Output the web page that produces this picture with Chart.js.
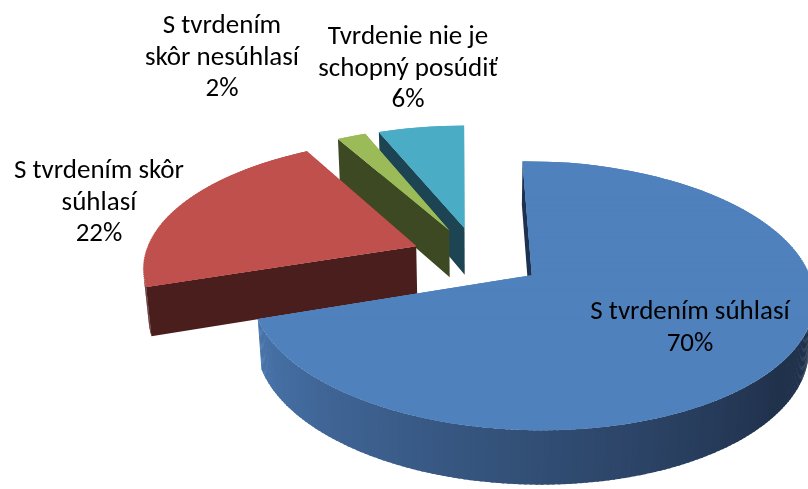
<!DOCTYPE html>
<html>
<head>
<meta charset="utf-8">
<script src="https://cdn.jsdelivr.net/npm/chart.js@4.4.0/dist/chart.umd.min.js"></script>
<style>
  html, body { margin: 0; padding: 0; background: #fff; }
  #chart { display: block; }
</style>
</head>
<body>
<canvas id="chart" width="808" height="489"></canvas>
<script>
// --- data ---
const categories = [
  ['S tvrdením súhlasí'],
  ['S tvrdením skôr', 'súhlasí'],
  ['S tvrdením', 'skôr nesúhlasí'],
  ['Tvrdenie nie je', 'schopný posúdiť']
];
const values = [70, 22, 2, 6];

// --- colors ---
const topColors = ['#4f81bd', '#c0504d', '#9bbb59', '#4bacc6'];
const sideColors = ['#1f3151', '#4b1e1e', '#3d4922', '#1d4452'];
const wallLight = ['#4a77af', '#4f1f1f', '#3d4922', '#1d4452'];
const wallDark = ['#21324d', '#4b1e1e', '#3d4922', '#1d4452'];

// label layout (center x, first baseline)
const labelX = [690, 99, 222, 408];
const labelY = [319, 178, 33, 44];
const lineGap = 31.5;

// fake 3d view: pie plane seen from above/front with a bit of perspective
const view = { x0: 477, y0: 257, r: 272, explode: 66, depth: 55, sin: 0.463, cos: 0.886, dist: 1611 };

function project(u, v, h) {
  const den = 1 - (v * view.cos + h * view.sin) / view.dist;
  return [view.x0 + u / den, view.y0 + (v * view.sin - h * view.cos) / den];
}

function hexRgb(h) {
  const n = parseInt(h.slice(1), 16);
  return [(n >> 16) & 255, (n >> 8) & 255, n & 255];
}
function mix(c1, c2, t) {
  const a = hexRgb(c1), b = hexRgb(c2);
  return 'rgb(' + a.map((x, i) => Math.round(x + (b[i] - x) * t)).join(',') + ')';
}

function quad(ctx, pts, color) {
  ctx.beginPath();
  ctx.moveTo(pts[0][0], pts[0][1]);
  for (let i = 1; i < pts.length; i++) ctx.lineTo(pts[i][0], pts[i][1]);
  ctx.closePath();
  ctx.fillStyle = color;
  ctx.fill();
}

function drawSides(ctx, s, dpr) {
  const a = s.arc.startAngle, b = s.arc.endAngle;
  const R = view.r, H = view.depth;
  const camV = view.dist * view.cos;
  ctx.save();
  ctx.setTransform(dpr, 0, 0, dpr, 0, 0);

  // radial faces
  const faces = [[a, Math.sin(a), -Math.cos(a)], [b, -Math.sin(b), Math.cos(b)]];
  faces.forEach(([ang, nx, ny]) => {
    if (-s.cu * nx + (camV - s.cv) * ny <= 0) return;
    const eu = s.cu + R * Math.cos(ang), ev = s.cv + R * Math.sin(ang);
    quad(ctx, [project(s.cu, s.cv, 0), project(eu, ev, 0), project(eu, ev, -H), project(s.cu, s.cv, -H)], sideColors[s.i]);
  });

  // outer wall, in thin pieces so it can be shaded
  const step = Math.PI / 180;
  for (let t = a; t < b; t += step) {
    const t2 = Math.min(t + step, b);
    const tm = (t + t2) / 2;
    const pu = s.cu + R * Math.cos(tm), pv = s.cv + R * Math.sin(tm);
    if (-pu * Math.cos(tm) + (camV - pv) * Math.sin(tm) <= 0) continue;
    let deg = tm * 180 / Math.PI;
    deg = ((deg % 360) + 540) % 360 - 180;
    const k = Math.max(0, Math.min(1, (deg - 40) / 125));
    const te = Math.min(t2 + step * 0.4, b);
    const p1 = [s.cu + R * Math.cos(t), s.cv + R * Math.sin(t)];
    const p2 = [s.cu + R * Math.cos(te), s.cv + R * Math.sin(te)];
    quad(ctx, [project(p1[0], p1[1], 0), project(p2[0], p2[1], 0), project(p2[0], p2[1], -H), project(p1[0], p1[1], -H)],
      mix(wallDark[s.i], wallLight[s.i], k));
  }
  ctx.restore();
}

// top face: the library's own arc, drawn in thin bands, each band with its own affine map
function drawTop(ctx, s, dpr) {
  const arc = s.arc;
  const k = view.r / arc.outerRadius;
  const q = view.cos / view.dist;
  const step = 4, overlap = 5;
  for (let v0 = s.cv - view.r - 4; v0 < s.cv + view.r + 4; v0 += step) {
    const vm = v0 + step / 2;
    const den = 1 - vm * q;
    const g = 1 / den;
    const fy = vm * view.sin / den;
    const dfy = view.sin / (den * den);
    ctx.save();
    ctx.setTransform(g * k * dpr, 0, 0, dfy * k * dpr,
      dpr * (view.x0 + g * (s.cu - k * arc.x)),
      dpr * (view.y0 + fy + dfy * (s.cv - k * arc.y - vm)));
    const py0 = arc.y + (v0 - s.cv) / k;
    const py1 = arc.y + (v0 + step + overlap - s.cv) / k;
    ctx.beginPath();
    ctx.rect(arc.x - 2 * arc.outerRadius, py0, 4 * arc.outerRadius, py1 - py0);
    ctx.clip();
    arc.draw(ctx);
    ctx.restore();
  }
}

const pie3d = {
  id: 'pie3d',
  beforeDatasetsDraw(chart) {
    const ctx = chart.ctx;
    const dpr = chart.currentDevicePixelRatio || 1;
    const list = chart.getDatasetMeta(0).data.map((arc, i) => {
      const mid = (arc.startAngle + arc.endAngle) / 2;
      return { arc, i, cu: view.explode * Math.cos(mid), cv: view.explode * Math.sin(mid) };
    }).sort((p, q) => p.cv - q.cv);
    list.forEach(s => {
      drawSides(ctx, s, dpr);
      drawTop(ctx, s, dpr);
    });
    return false;
  },
  afterDraw(chart) {
    const ctx = chart.ctx;
    const total = values.reduce((x, y) => x + y, 0);
    ctx.save();
    ctx.font = '27px Carlito, "Open Sans", sans-serif';
    ctx.fillStyle = '#000';
    ctx.textAlign = 'center';
    ctx.textBaseline = 'alphabetic';
    categories.forEach((lines, i) => {
      const all = lines.concat([Math.round(values[i] / total * 100) + '%']);
      all.forEach((txt, j) => ctx.fillText(txt, labelX[i], labelY[i] + j * lineGap));
    });
    ctx.restore();
  }
};

new Chart(document.getElementById('chart'), {
  type: 'pie',
  data: {
    labels: categories,
    datasets: [{
      data: values,
      backgroundColor: topColors,
      borderWidth: 0
    }]
  },
  options: {
    responsive: false,
    devicePixelRatio: 1,
    animation: false,
    events: [],
    rotation: -0.5,
    plugins: {
      legend: { display: false },
      tooltip: { enabled: false }
    }
  },
  plugins: [pie3d]
});
</script>
</body>
</html>
